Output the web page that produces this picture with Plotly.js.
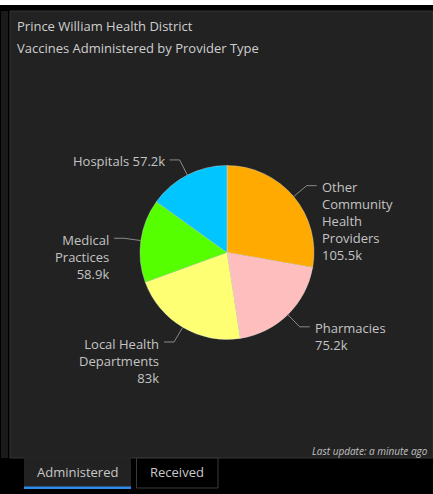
<!DOCTYPE html>
<html>
<head>
<meta charset="utf-8">
<script src="https://cdn.plot.ly/plotly-3.0.1.min.js"></script>
<style>
  html, body { margin: 0; padding: 0; background: #000; }
  #chart { width: 433px; height: 494px; }
</style>
</head>
<body>
<div id="chart"></div>
<script>
// ---- data ----
const categories = ["Other Community Health Providers", "Pharmacies", "Local Health Departments", "Medical Practices", "Hospitals"];
const values = [105500, 75200, 83000, 58900, 57200];
const sliceLabels = ["Other<br>Community<br>Health<br>Providers", "Pharmacies", "Local Health<br>Departments", "Medical<br>Practices", "Hospitals"];
const labelSeparators = ["<br>", "<br>", "<br>", "<br>", " "];
const colors = ["#ffaa00", "#ffbebe", "#ffff73", "#55ff00", "#00c5ff"];
const titleLines = ["Prince William Health District", "Vaccines Administered by Provider Type"];
const tabLabels = ["Administered", "Received"];
const footerText = "Last update: a minute ago";

// ---- geometry (pixels) ----
const W = 433, H = 494;
const cx = 227, cy = 252.5, R = 87;
const px = x => x / W;
const py = y => 1 - y / H;

const textColor = "#c4c4c4";
const lineColor = "#8a8a8a";
const font = "'Open Sans', sans-serif";

const total = values.reduce((a, b) => a + b, 0);
const shapes = [];
const annotations = [];

// background chrome
shapes.push({type: "rect", xref: "paper", yref: "paper", x0: 0, x1: 1, y0: py(5), y1: 1, fillcolor: "#ffffff", line: {width: 0}, layer: "below"});
shapes.push({type: "rect", xref: "paper", yref: "paper", x0: px(1), x1: px(8), y0: py(458), y1: py(11), fillcolor: "#1a1a1a", line: {width: 0}, layer: "below"});
shapes.push({type: "rect", xref: "paper", yref: "paper", x0: px(10), x1: px(433), y0: py(458), y1: py(11), fillcolor: "#222222", line: {color: "#353535", width: 1}, layer: "below"});
// tabs
shapes.push({type: "rect", xref: "paper", yref: "paper", x0: px(24), x1: px(131), y0: py(489), y1: py(457.5), fillcolor: "#222222", line: {width: 0}, layer: "below"});
shapes.push({type: "rect", xref: "paper", yref: "paper", x0: px(24), x1: px(131), y0: py(489), y1: py(486.5), fillcolor: "#2d8ae6", line: {width: 0}, layer: "below"});
shapes.push({type: "rect", xref: "paper", yref: "paper", x0: px(136.5), x1: px(218), y0: py(488), y1: py(458), fillcolor: "#000000", line: {color: "#3a3a3a", width: 1}, layer: "below"});

// titles
titleLines.forEach((t, i) => {
  annotations.push({text: t, xref: "paper", yref: "paper", x: px(15), y: py(i === 0 ? 26 : 48),
    xanchor: "left", yanchor: "middle", showarrow: false, font: {family: font, size: 13, color: "#cfcfcf"}});
});
// tab labels
annotations.push({text: tabLabels[0], xref: "paper", yref: "paper", x: px(77.5), y: py(472), xanchor: "center", yanchor: "middle", showarrow: false, font: {family: font, size: 13, color: "#c8c8c8"}});
annotations.push({text: tabLabels[1], xref: "paper", yref: "paper", x: px(177), y: py(472), xanchor: "center", yanchor: "middle", showarrow: false, font: {family: font, size: 13, color: "#c8c8c8"}});
// footer (kept fully inside the panel)
annotations.push({text: "<i>" + footerText + "</i>", xref: "paper", yref: "paper", x: px(430), y: py(451), xanchor: "right", yanchor: "middle", showarrow: false, font: {family: font, size: 10, color: "#c0c0c0"}});

// slice labels with leader lines, derived from data angles
let cum = 0;
values.forEach((v, i) => {
  const mid = 2 * Math.PI * (cum + v / 2) / total;
  cum += v;
  const s = Math.sin(mid), c = Math.cos(mid);
  const ex = cx + R * s, ey = cy - R * c;
  const bx = cx + (R + 17) * s, by = cy - (R + 17) * c;
  const dir = s >= 0 ? 1 : -1;
  const hx = bx + dir * 10;
  shapes.push({type: "line", xref: "paper", yref: "paper", x0: px(ex), y0: py(ey), x1: px(bx), y1: py(by), line: {color: lineColor, width: 1}});
  shapes.push({type: "line", xref: "paper", yref: "paper", x0: px(bx), y0: py(by), x1: px(hx), y1: py(by), line: {color: lineColor, width: 1}});
  const label = sliceLabels[i] + labelSeparators[i] + (v / 1000) + "k";
  annotations.push({text: label, xref: "paper", yref: "paper",
    x: px(hx + dir * 3), y: py(by - 9.5),
    xanchor: dir > 0 ? "left" : "right", yanchor: "top", align: dir > 0 ? "left" : "right",
    showarrow: false, font: {family: font, size: 13, color: textColor}});
});

const trace = {
  type: "pie",
  labels: categories,
  values: values,
  sort: false,
  direction: "clockwise",
  rotation: 0,
  textinfo: "none",
  hoverinfo: "label+value",
  marker: {colors: colors, line: {color: "rgba(230,230,230,0.6)", width: 0.6}},
  domain: {x: [px(cx - R), px(cx + R)], y: [py(cy + R), py(cy - R)]},
  showlegend: false
};

const layout = {
  width: W, height: H,
  margin: {l: 0, r: 0, t: 0, b: 0},
  paper_bgcolor: "#000000",
  plot_bgcolor: "#000000",
  showlegend: false,
  shapes: shapes,
  annotations: annotations
};

Plotly.newPlot("chart", [trace], layout, {displayModeBar: false, staticPlot: true});
</script>
</body>
</html>
